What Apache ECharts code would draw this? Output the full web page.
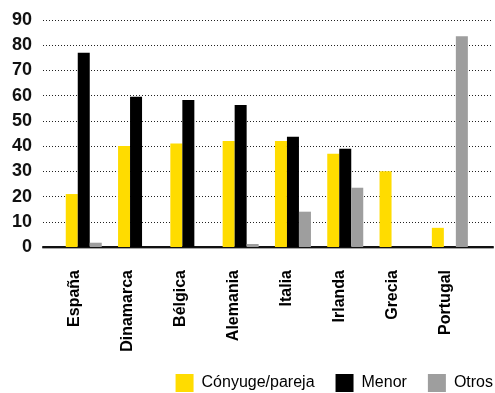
<!DOCTYPE html>
<html>
<head>
<meta charset="utf-8">
<script src="https://cdn.jsdelivr.net/npm/echarts@6/dist/echarts.min.js"></script>
<style>
  html, body { margin: 0; padding: 0; background: #fff; }
  #chart { width: 495px; height: 393px; }
</style>
</head>
<body>
<div id="chart"></div>
<script>
// Países y porcentajes por tipo de persona a cargo
const countries = ['España', 'Dinamarca', 'Bélgica', 'Alemania', 'Italia', 'Irlanda', 'Grecia', 'Portugal'];
const conyuge = [21, 40, 41, 42, 42, 37, 30, 7.6];
const menor = [77, 59.6, 58.3, 56.3, 43.7, 39, null, null];
const otros = [1.7, null, null, 1.2, 14, 23.5, null, 83.6];
const yTicks = [0, 10, 20, 30, 40, 50, 60, 70, 80, 90];

const FONT = "'Liberation Sans', Arial, Helvetica, sans-serif";
const YELLOW = '#FFDC00';
const BLACK = '#000000';
const GREY = '#9E9E9E';

const chart = echarts.init(document.getElementById('chart'), null, { renderer: 'canvas' });

const yMin = yTicks[0];
const yMax = yTicks[yTicks.length - 1];
const yStep = yTicks[1] - yTicks[0];

chart.setOption({
  animation: false,
  textStyle: { fontFamily: FONT },
  legend: {
    right: 2,
    top: 374,
    padding: 0,
    itemWidth: 18,
    itemHeight: 18,
    itemGap: 21,
    icon: 'rect',
    textStyle: { fontFamily: FONT, fontSize: 16, color: '#000', lineHeight: 18, padding: [0, 0, 0, 3] },
    data: ['Cónyuge/pareja', 'Menor', 'Otros']
  },
  grid: [
    // frame: grid lines, value labels and base line
    { left: 43, right: 2, top: 20, bottom: 146 },
    // bars
    { left: 57.6, width: 418.4, top: 20, bottom: 146 },
    // country labels
    { left: 48.5, width: 423.2, top: 20, bottom: 146 }
  ],
  xAxis: [
    {
      gridIndex: 0, type: 'category', data: countries,
      axisLine: { show: true, lineStyle: { color: '#111', width: 2, shadowColor: 'rgba(0,0,0,0.35)', shadowOffsetY: 1, shadowBlur: 0 } },
      axisTick: { show: false }, axisLabel: { show: false }, splitLine: { show: false }
    },
    {
      gridIndex: 1, type: 'category', data: countries,
      axisLine: { show: false }, axisTick: { show: false }, axisLabel: { show: false }
    },
    {
      gridIndex: 2, type: 'category', data: countries,
      axisLine: { show: false }, axisTick: { show: false },
      axisLabel: {
        show: true, rotate: 90, margin: 23, interval: 0,
        fontFamily: FONT, fontSize: 16, fontWeight: 'bold', color: '#000'
      }
    }
  ],
  yAxis: [
    {
      gridIndex: 0, type: 'value', min: yMin, max: yMax, interval: yStep,
      axisLine: { show: false }, axisTick: { show: false },
      axisLabel: { margin: 11, fontFamily: FONT, fontSize: 18, fontWeight: 'bold', color: '#111' },
      splitLine: { show: true, lineStyle: { color: '#222', width: 1, type: [1, 2] } }
    },
    {
      gridIndex: 1, type: 'value', min: yMin, max: yMax, interval: yStep,
      axisLine: { show: false }, axisTick: { show: false }, axisLabel: { show: false }, splitLine: { show: false }
    },
    {
      gridIndex: 2, type: 'value', min: yMin, max: yMax, interval: yStep,
      axisLine: { show: false }, axisTick: { show: false }, axisLabel: { show: false }, splitLine: { show: false }
    }
  ],
  series: [
    { name: 'Cónyuge/pareja', type: 'bar', xAxisIndex: 1, yAxisIndex: 1, data: conyuge, barWidth: 12, barGap: '0%', itemStyle: { color: YELLOW } },
    { name: 'Menor', type: 'bar', xAxisIndex: 1, yAxisIndex: 1, data: menor, barWidth: 12, barGap: '0%', itemStyle: { color: BLACK } },
    { name: 'Otros', type: 'bar', xAxisIndex: 1, yAxisIndex: 1, data: otros, barWidth: 12, barGap: '0%', itemStyle: { color: GREY } }
  ]
});
</script>
</body>
</html>
